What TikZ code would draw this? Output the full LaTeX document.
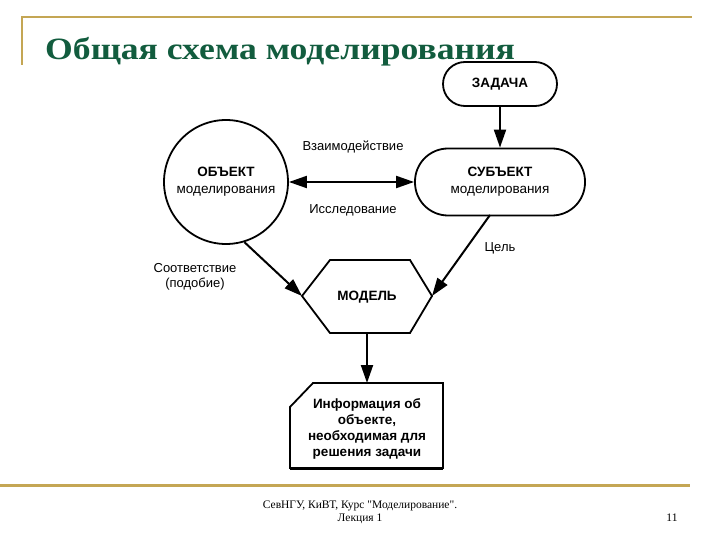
\documentclass[tikz,border=0pt]{standalone}
\usepackage{fontspec}
\setmainfont{Liberation Sans}
\newfontfamily\serifru{Liberation Serif}
\usetikzlibrary{arrows.meta}
\definecolor{titlegreen}{RGB}{18,92,62}
\definecolor{goldline}{RGB}{196,166,84}
\tikzset{
  box/.style={draw=black, line width=1.8pt, fill=white, align=center, inner sep=0pt},
  tip/.tip={Triangle[length=18pt,width=12pt]},
  conn/.style={line width=2pt, -tip},
  lbl/.style={font=\fontsize{13}{15}\selectfont, align=center, inner sep=0pt},
  bold/.style={font=\fontsize{13.5}{16}\selectfont\bfseries},
}
\begin{document}
\begin{tikzpicture}[x=1pt,y=-1pt]
\useasboundingbox (0,0) rectangle (720,540);
% frame lines
\draw[goldline, line width=1.5pt] (22,65) -- (22,17) -- (692,17);
\draw[goldline, line width=3pt] (0,485) -- (690,485);
% title
\node[anchor=base west, text=titlegreen, inner sep=0pt, font=\serifru\fontsize{31}{34}\selectfont\bfseries] (title) at (45,60) {\scalebox{1.15}[1]{Общая схема моделирования}};
% footer
\node[anchor=base, inner sep=0pt, align=center, font=\serifru\fontsize{11.5}{12.5}\selectfont] (foot) at (360,521) {СевНГУ, КиВТ, Курс "Моделирование".\\Лекция 1};
\node[anchor=base, inner sep=0pt, font=\serifru\fontsize{11.5}{12}\selectfont] (pg) at (672,521) {11};
% nodes
\node[box, rounded corners=22pt, minimum width=114pt, minimum height=44pt, bold] (task) at (500,84) {ЗАДАЧА};
\node[box, rounded corners=33pt, minimum width=170pt, minimum height=67pt, font=\fontsize{13.5}{17}\selectfont] (sub) at (500,182) {\textbf{СУБЪЕКТ}\\моделирования};
\node[box, circle, minimum size=124pt, font=\fontsize{13.5}{17}\selectfont] (obj) at (226,182) {\textbf{ОБЪЕКТ}\\моделирования};
% hexagon
\coordinate (hexL) at (302,296);
\coordinate (hexR) at (432,296);
\coordinate (hexT) at (367,260);
\coordinate (hexB) at (367,333);
\draw[line width=1.8pt, fill=white] (hexL) -- (330,260) -- (410,260) -- (hexR) -- (410,333) -- (330,333) -- cycle;
\node[bold, inner sep=0pt] (model) at (367,297) {МОДЕЛЬ};
% info box
\draw[line width=1.8pt, fill=white] (290,468) -- (290,407) -- (313,383) -- (443,383) -- (443,468) -- cycle;
\draw[line width=3pt] (290,468) -- (443,468);
\coordinate (infoT) at (367,383);
\node[align=center, inner sep=0pt, font=\fontsize{13.5}{16}\selectfont\bfseries] (info) at (367,429) {Информация об\\объекте,\\необходимая для\\решения задачи};
% connectors
\draw[conn] (task) -- (sub);
\draw[line width=2pt, tip-tip] (obj) -- (sub);
\coordinate (subOut) at (490,215);
\draw[conn] (obj.-73) -- (hexL);
\draw[conn] (subOut) -- (hexR);
\draw[conn] (hexB) -- (infoT);
% labels
\node[lbl] (l1) at (353,147) {Взаимодействие};
\node[lbl] (l2) at (353,210) {Исследование};
\node[lbl] (l3) at (195,277) {Соответствие\\(подобие)};
\node[lbl] (l4) at (500,248) {Цель};
\end{tikzpicture}
\end{document}
